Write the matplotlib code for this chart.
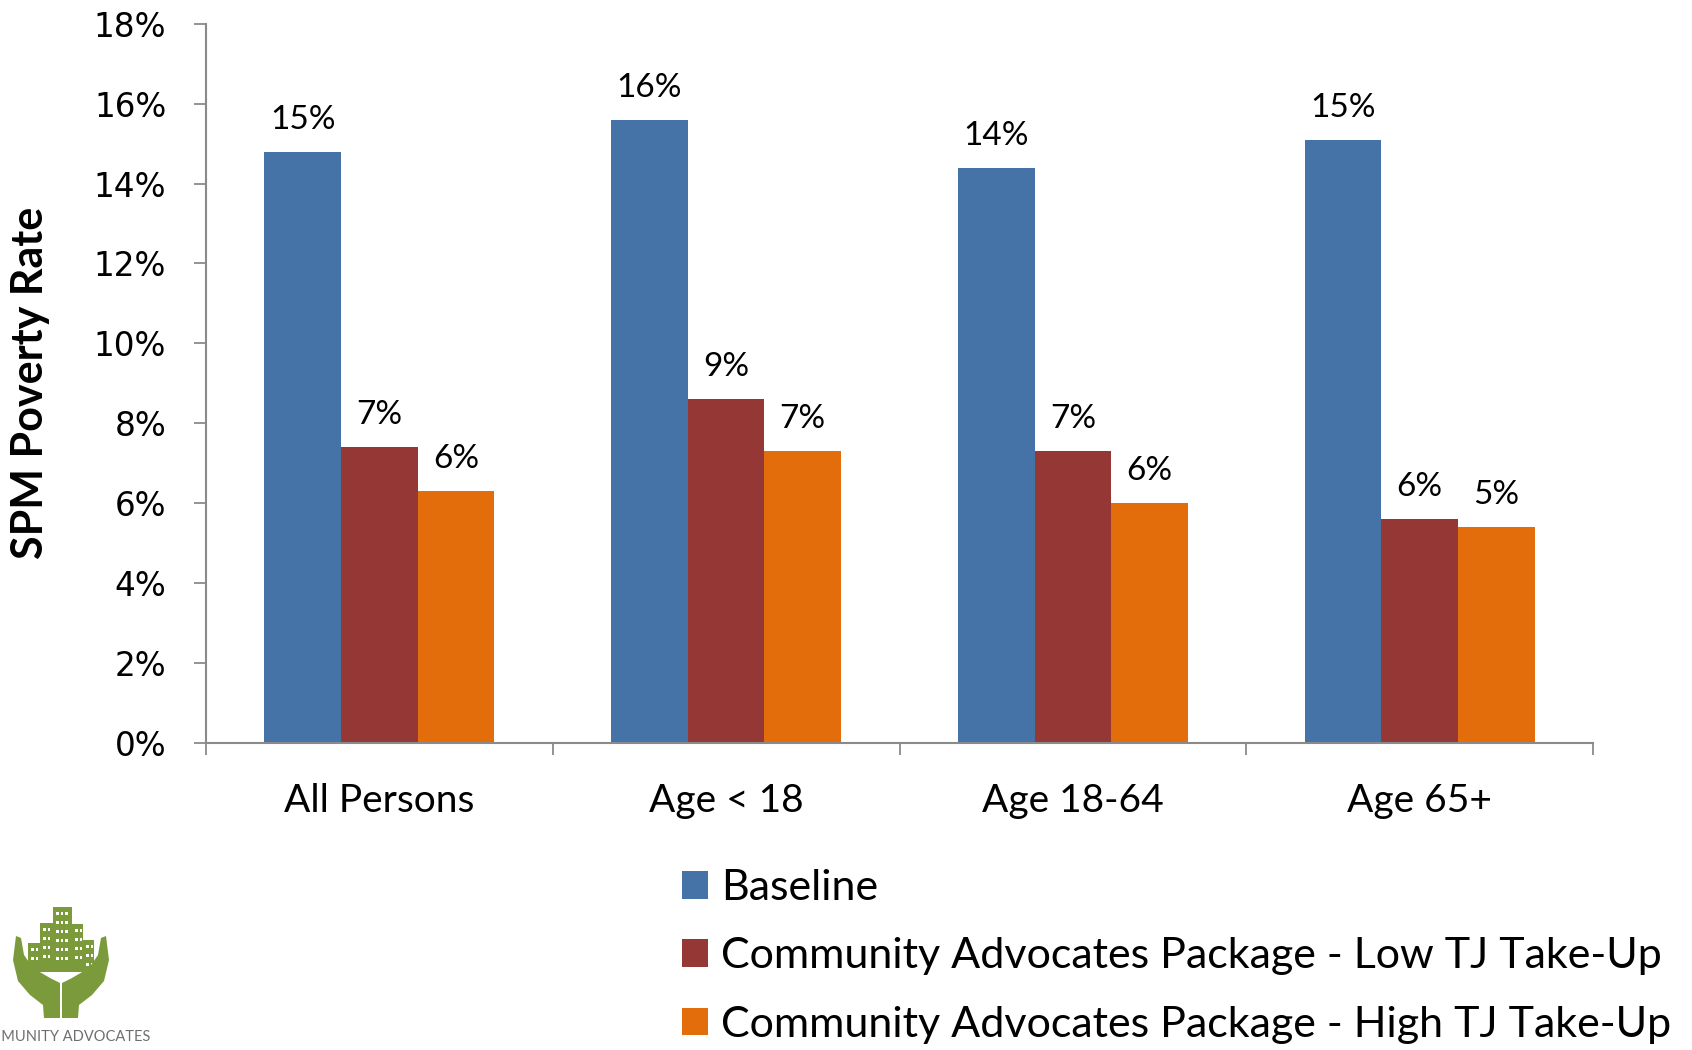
import matplotlib
matplotlib.use("Agg")
import matplotlib.pyplot as plt
from matplotlib.patches import Rectangle, Polygon
import numpy as np

categories = ["All Persons", "Age < 18", "Age 18-64", "Age 65+"]
series_names = [
    "Baseline",
    "Community Advocates Package - Low TJ Take-Up",
    "Community Advocates Package - High TJ Take-Up",
]
baseline = [14.8, 15.6, 14.4, 15.1]
low_takeup = [7.4, 8.6, 7.3, 5.6]
high_takeup = [6.3, 7.3, 6.0, 5.4]
yticks = [0, 2, 4, 6, 8, 10, 12, 14, 16, 18]

colors = ["#4673A7", "#953735", "#E36C0B"]
axis_gray = "#8A8A8A"
label_font = "Lato"

W, H = 1692, 1050
fig = plt.figure(figsize=(W / 100, H / 100), dpi=100)


def fx(px):
    return px / W


def fy(py):
    return 1 - py / H


ax = fig.add_axes([fx(206), fy(743), fx(1593 - 206), (743 - 23.7) / H])

n = len(series_names)
x = np.arange(len(categories))
bw = 0.221
all_series = [baseline, low_takeup, high_takeup]
bars = []
for i, (vals, col, name) in enumerate(zip(all_series, colors, series_names)):
    pos = x + (i - (n - 1) / 2) * bw
    b = ax.bar(pos, vals, width=bw, color=col, label=name, edgecolor="none", zorder=2)
    bars.append(b)
    for xp, v in zip(pos, vals):
        ax.annotate(f"{v:.0f}%", (xp, v), xytext=(0, 23), textcoords="offset points",
                    ha="center", va="center", fontsize=24, family=label_font, color="black")

ax.set_xlim(-0.5, len(categories) - 0.5)
ax.set_ylim(0, 18)
ax.set_yticks(yticks)
ax.set_yticklabels([f"{t}%" for t in yticks], family="DejaVu Sans", fontsize=23.5)
ax.tick_params(axis="y", direction="out", length=8.6, width=1.3, color=axis_gray, pad=20)

ax.set_xticks(x)
ax.set_xticklabels(categories, family=label_font, fontsize=28)
ax.tick_params(axis="x", which="major", length=0, pad=29)
ax.set_xticks(np.arange(-0.5, len(categories)), minor=True)
ax.tick_params(axis="x", which="minor", direction="out", length=8.6, width=1.3, color=axis_gray)

for s in ["top", "right"]:
    ax.spines[s].set_visible(False)
for s in ["left", "bottom"]:
    ax.spines[s].set_color(axis_gray)
    ax.spines[s].set_linewidth(1.5)

fig.text(fx(30), fy(383), "SPM Poverty Rate", rotation=90, ha="center", va="center",
         family=label_font, fontweight="bold", fontsize=31)

leg = fig.legend(handles=bars, labels=series_names, loc="upper left",
                 bbox_to_anchor=(fx(682), fy(869)), frameon=False,
                 prop={"family": label_font, "size": 31},
                 handlelength=0.61, handleheight=0.61, handletextpad=0.3,
                 labelspacing=0.705, borderpad=0, borderaxespad=0)

# Organisation logo in the lower-left corner
logo = fig.add_axes([0, 0, fx(160), 150 / H])
logo.set_xlim(0, 160)
logo.set_ylim(1050, 900)
logo.axis("off")
green = "#7A9A3C"
blds = [(28, 943, 12, 27), (40, 923, 15, 47), (53, 907, 19, 63), (72, 924, 11, 46), (83, 940, 11, 30)]
for bx, by, bwid, bh in blds:
    logo.add_patch(Rectangle((bx, by), bwid, 970 - by, color=green, lw=0))
    for wy in np.arange(by + 5, 964, 9):
        for wx in np.arange(bx + 3, bx + bwid - 3, 4.5):
            logo.add_patch(Rectangle((wx, wy), 2.6, 3.4, color="white", lw=0))
logo.add_patch(Rectangle((28, 966), 66, 6, color=green, lw=0))
left_hand = [(16, 936), (21, 938), (24, 955), (33, 968), (50, 978), (60, 983), (60, 1018),
             (44, 1018), (43, 1005), (30, 995), (18, 981), (13, 960)]
logo.add_patch(Polygon(left_hand, closed=True, color=green, lw=0))
right_hand = [(122 - px, py) for px, py in left_hand]
logo.add_patch(Polygon(right_hand, closed=True, color=green, lw=0))
logo.text(150, 1037, "COMMUNITY ADVOCATES", ha="right", va="center", family=label_font,
          fontsize=10.5, color="#6D6E71")
logo.text(162, 1056, "Meeting Basic Needs Inspiring Hope", ha="right", va="center", family=label_font,
          fontsize=9, color="#B8A94A")

fig.savefig("out.png", dpi=100)
